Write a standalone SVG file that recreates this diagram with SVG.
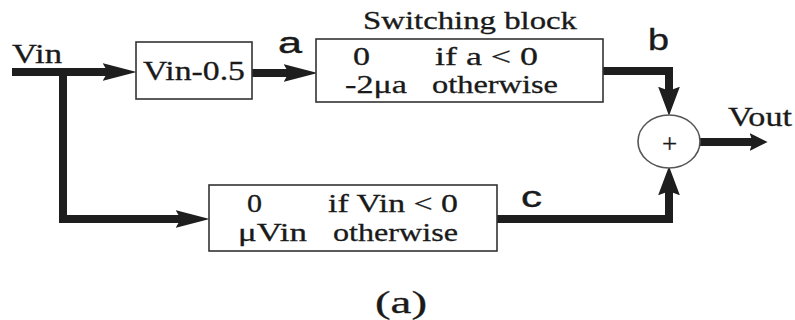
<svg xmlns="http://www.w3.org/2000/svg" width="795" height="320" viewBox="0 0 795 320">
<defs>
<style>
.box{fill:#fff;stroke:#333;stroke-width:1.6}
.wire{fill:none;stroke:#1e1e1e;stroke-width:8;stroke-linejoin:miter;stroke-linecap:butt}
.t{font-family:"Liberation Serif","Times New Roman",serif;fill:#1a1a1a;stroke:#1a1a1a;stroke-width:0.3}
.s{font-family:"Liberation Sans",Arial,sans-serif;fill:#1a1a1a;stroke:#1a1a1a;stroke-width:0.4}
</style>
<marker id="arrH" markerUnits="userSpaceOnUse" markerWidth="34" markerHeight="18" refX="12" refY="8.5" orient="auto" viewBox="0 0 33 17">
<path d="M0,0 L33,8.5 L0,17 L5,8.5 Z" fill="#1e1e1e"/>
</marker>
<marker id="arrV" markerUnits="userSpaceOnUse" markerWidth="29" markerHeight="22" refX="8" refY="10.5" orient="auto" viewBox="0 0 28 21">
<path d="M0,0 L28,10.5 L0,21 L4,10.5 Z" fill="#1e1e1e"/>
</marker>
<marker id="arrS" markerUnits="userSpaceOnUse" markerWidth="18" markerHeight="18" refX="7" refY="8.5" orient="auto" viewBox="0 0 17 17">
<path d="M0,0 L17,8.5 L0,17 L3,8.5 Z" fill="#1e1e1e"/>
</marker>
</defs>
<rect width="795" height="320" fill="#fff"/>

<g id="connectors">
<path class="wire" d="M12,72 H115" marker-end="url(#arrH)"/>
<path class="wire" d="M63,68 V219 H188" marker-end="url(#arrH)"/>
<path class="wire" d="M252,73 H296" marker-end="url(#arrH)"/>
<path class="wire" d="M603,71 H669 V95" marker-end="url(#arrV)"/>
<path class="wire" d="M497,219 H669 V187" marker-end="url(#arrV)"/>
<path class="wire" d="M700,142 H757" marker-end="url(#arrS)"/>
</g>

<g id="vin-label">
<text class="t" x="12" y="63" font-size="27" textLength="50" lengthAdjust="spacingAndGlyphs">Vin</text>
</g>

<g id="offset-block">
<rect class="box" x="136" y="42" width="116" height="57"/>
<text class="t" x="143" y="80" font-size="28" textLength="102" lengthAdjust="spacingAndGlyphs">Vin-0.5</text>
</g>

<g id="label-a">
<text class="s" x="278" y="53" font-size="29" textLength="24" lengthAdjust="spacingAndGlyphs">a</text>
</g>

<g id="switching-block">
<text class="t" x="363" y="29" font-size="25" textLength="214" lengthAdjust="spacingAndGlyphs">Switching block</text>
<rect class="box" x="316" y="39" width="287" height="63"/>
<text class="t" x="353" y="65" font-size="26" textLength="17" lengthAdjust="spacingAndGlyphs">0</text>
<text class="t" x="435" y="65" font-size="26" textLength="103" lengthAdjust="spacingAndGlyphs">if a &lt; 0</text>
<text class="t" x="345" y="93" font-size="26" textLength="62" lengthAdjust="spacingAndGlyphs">-2μa</text>
<text class="t" x="432" y="93" font-size="26" textLength="126" lengthAdjust="spacingAndGlyphs">otherwise</text>
</g>

<g id="label-b">
<text class="s" x="648" y="50" font-size="29" textLength="21" lengthAdjust="spacingAndGlyphs">b</text>
</g>

<g id="sum">
<ellipse cx="669" cy="141.5" rx="31" ry="26.5" fill="#fff" stroke="#555" stroke-width="1.6"/>
<text class="t" x="669.5" y="153" font-size="27" text-anchor="middle">+</text>
</g>

<g id="vout-label">
<text class="t" x="728" y="126" font-size="27" textLength="64" lengthAdjust="spacingAndGlyphs">Vout</text>
</g>

<g id="linear-block">
<rect class="box" x="209" y="185" width="288" height="66"/>
<text class="t" x="247" y="212" font-size="26" textLength="15" lengthAdjust="spacingAndGlyphs">0</text>
<text class="t" x="328" y="212" font-size="26" textLength="130" lengthAdjust="spacingAndGlyphs">if Vin &lt; 0</text>
<text class="t" x="238" y="241" font-size="26" textLength="69" lengthAdjust="spacingAndGlyphs">μVin</text>
<text class="t" x="333" y="241" font-size="26" textLength="125" lengthAdjust="spacingAndGlyphs">otherwise</text>
</g>

<g id="label-c">
<text class="s" x="521" y="207" font-size="29" textLength="21" lengthAdjust="spacingAndGlyphs">c</text>
</g>

<g id="caption">
<text class="t" x="375" y="313" font-size="31" textLength="52" lengthAdjust="spacingAndGlyphs">(a)</text>
</g>
</svg>
